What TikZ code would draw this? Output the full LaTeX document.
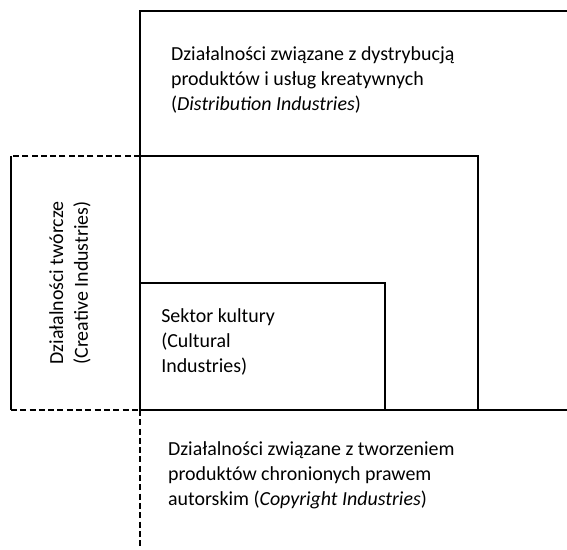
\documentclass[tikz,border=0pt]{standalone}
\usepackage{fontspec}
\setmainfont{Carlito}

\begin{document}
\begin{tikzpicture}[
    % Frame lines
    frame/.style={line width=1.5pt},
    frame-dashed/.style={line width=1.5pt, dash pattern=on 4.5pt off 2.5pt},
    % Labels
    label-text/.style={font=\fontsize{15}{18.75}\selectfont, align=left, inner sep=0pt, anchor=west},
]

% Canvas
\useasboundingbox (0, 0) rectangle (15, 14.526);

% === DISTRIBUTION INDUSTRIES (outer, open to the right) ===
\draw[frame] (15, 14.23) -- (3.70, 14.23) -- (3.70, 3.68);
\draw[frame-dashed] (3.70, 3.68) -- (3.70, 0);
\draw[frame] (3.70, 3.68) -- (15, 3.68);

% === MIDDLE BOX ===
\draw[frame] (3.70, 10.40) -- (12.65, 10.40) -- (12.65, 3.68);

% === CREATIVE INDUSTRIES (left) ===
\draw[frame-dashed] (3.70, 10.40) -- (0.29, 10.40);
\draw[frame] (0.29, 10.40) -- (0.29, 3.68);
\draw[frame-dashed] (0.29, 3.68) -- (3.70, 3.68);

% === CULTURAL INDUSTRIES (inner) ===
\draw[frame] (3.70, 7.04) -- (10.19, 7.04) -- (10.19, 3.68);

% Labels
\node[label-text] (dist) at (4.52, 12.41) {Działalności związane z dystrybucją\\produktów i usług kreatywnych\\(\textit{Distribution Industries})};
\node[label-text, anchor=center, align=center, rotate=90] (creat) at (1.85, 7.04) {Działalności twórcze\\(Creative Industries)};
\node[label-text] (cult) at (4.26, 5.48) {Sektor kultury\\(Cultural\\Industries)};
\node[label-text] (copy) at (4.44, 1.96) {Działalności związane z tworzeniem\\produktów chronionych prawem\\autorskim (\textit{Copyright Industries})};

\end{tikzpicture}
\end{document}
